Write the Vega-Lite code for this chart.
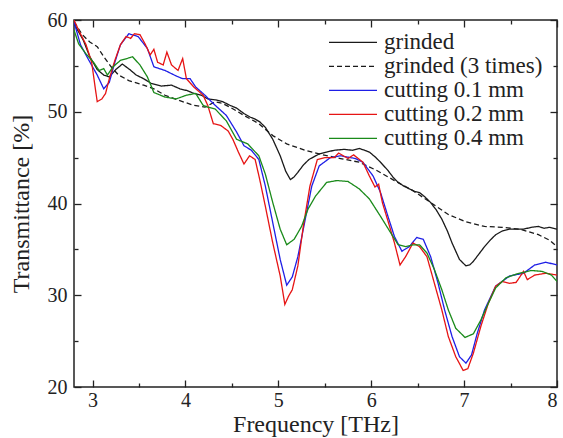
{
  "$schema": "https://vega.github.io/schema/vega-lite/v6.json",
  "width": 483,
  "height": 367,
  "autosize": {"type": "none"},
  "padding": {"left": 74, "top": 20, "right": 6, "bottom": 51},
  "background": "white",
  "config": {
    "font": "Liberation Serif, Times New Roman, DejaVu Serif, serif",
    "view": {"stroke": "#222", "strokeWidth": 1.5},
    "axis": {"domain": false, "grid": false, "labelFont": "Liberation Serif, Times New Roman, DejaVu Serif, serif", "titleFont": "Liberation Serif, Times New Roman, DejaVu Serif, serif", "tickColor": "#222", "labelColor": "#222", "titleColor": "#222", "titleFontWeight": "normal", "tickWidth": 1.3},
    "legend": {"labelFont": "Liberation Serif, Times New Roman, DejaVu Serif, serif"}
  },
  "data": {"values": [
    {"s":"grinded","f":2.8,"t":59.6},{"s":"grinded","f":2.9,"t":57.8},{"s":"grinded","f":2.97,"t":56.0},{"s":"grinded","f":3.05,"t":54.6},{"s":"grinded","f":3.12,"t":54.0},{"s":"grinded","f":3.18,"t":53.8},{"s":"grinded","f":3.25,"t":54.6},{"s":"grinded","f":3.32,"t":55.2},{"s":"grinded","f":3.4,"t":54.6},{"s":"grinded","f":3.47,"t":54.0},{"s":"grinded","f":3.55,"t":53.6},{"s":"grinded","f":3.63,"t":53.1},{"s":"grinded","f":3.74,"t":52.8},{"s":"grinded","f":3.85,"t":52.9},{"s":"grinded","f":3.94,"t":52.5},{"s":"grinded","f":4.02,"t":52.3},{"s":"grinded","f":4.09,"t":52.0},{"s":"grinded","f":4.17,"t":51.8},{"s":"grinded","f":4.24,"t":51.4},{"s":"grinded","f":4.32,"t":51.3},{"s":"grinded","f":4.4,"t":51.1},{"s":"grinded","f":4.48,"t":50.7},{"s":"grinded","f":4.55,"t":50.4},{"s":"grinded","f":4.63,"t":49.8},{"s":"grinded","f":4.7,"t":49.4},{"s":"grinded","f":4.75,"t":49.2},{"s":"grinded","f":4.8,"t":48.9},{"s":"grinded","f":4.86,"t":48.3},{"s":"grinded","f":4.94,"t":47.0},{"s":"grinded","f":5.02,"t":45.2},{"s":"grinded","f":5.08,"t":43.5},{"s":"grinded","f":5.13,"t":42.6},{"s":"grinded","f":5.17,"t":42.9},{"s":"grinded","f":5.21,"t":43.4},{"s":"grinded","f":5.27,"t":44.2},{"s":"grinded","f":5.33,"t":44.8},{"s":"grinded","f":5.44,"t":45.4},{"s":"grinded","f":5.52,"t":45.6},{"s":"grinded","f":5.6,"t":45.8},{"s":"grinded","f":5.71,"t":45.9},{"s":"grinded","f":5.8,"t":45.8},{"s":"grinded","f":5.87,"t":46.0},{"s":"grinded","f":5.93,"t":45.8},{"s":"grinded","f":5.98,"t":45.6},{"s":"grinded","f":6.04,"t":45.1},{"s":"grinded","f":6.1,"t":44.5},{"s":"grinded","f":6.18,"t":43.6},{"s":"grinded","f":6.24,"t":42.8},{"s":"grinded","f":6.29,"t":42.3},{"s":"grinded","f":6.35,"t":41.9},{"s":"grinded","f":6.41,"t":41.6},{"s":"grinded","f":6.47,"t":41.3},{"s":"grinded","f":6.52,"t":41.2},{"s":"grinded","f":6.58,"t":40.7},{"s":"grinded","f":6.64,"t":40.1},{"s":"grinded","f":6.7,"t":39.3},{"s":"grinded","f":6.76,"t":38.3},{"s":"grinded","f":6.82,"t":37.0},{"s":"grinded","f":6.87,"t":35.7},{"s":"grinded","f":6.91,"t":34.8},{"s":"grinded","f":6.95,"t":33.9},{"s":"grinded","f":7.02,"t":33.2},{"s":"grinded","f":7.06,"t":33.3},{"s":"grinded","f":7.1,"t":33.7},{"s":"grinded","f":7.16,"t":34.5},{"s":"grinded","f":7.22,"t":35.3},{"s":"grinded","f":7.28,"t":36.0},{"s":"grinded","f":7.34,"t":36.6},{"s":"grinded","f":7.41,"t":37.0},{"s":"grinded","f":7.49,"t":37.2},{"s":"grinded","f":7.56,"t":37.2},{"s":"grinded","f":7.64,"t":37.2},{"s":"grinded","f":7.72,"t":37.4},{"s":"grinded","f":7.8,"t":37.5},{"s":"grinded","f":7.86,"t":37.3},{"s":"grinded","f":7.92,"t":37.4},{"s":"grinded","f":8.0,"t":37.2},

    {"s":"grinded (3 times)","f":2.8,"t":59.8},{"s":"grinded (3 times)","f":2.89,"t":58.4},{"s":"grinded (3 times)","f":2.97,"t":57.6},{"s":"grinded (3 times)","f":3.05,"t":57.1},{"s":"grinded (3 times)","f":3.12,"t":56.0},{"s":"grinded (3 times)","f":3.2,"t":54.9},{"s":"grinded (3 times)","f":3.28,"t":54.0},{"s":"grinded (3 times)","f":3.39,"t":53.4},{"s":"grinded (3 times)","f":3.55,"t":52.9},{"s":"grinded (3 times)","f":3.66,"t":52.5},{"s":"grinded (3 times)","f":3.78,"t":51.8},{"s":"grinded (3 times)","f":3.94,"t":51.2},{"s":"grinded (3 times)","f":4.09,"t":50.7},{"s":"grinded (3 times)","f":4.21,"t":50.5},{"s":"grinded (3 times)","f":4.32,"t":51.1},{"s":"grinded (3 times)","f":4.4,"t":50.9},{"s":"grinded (3 times)","f":4.48,"t":50.5},{"s":"grinded (3 times)","f":4.63,"t":49.6},{"s":"grinded (3 times)","f":4.79,"t":48.7},{"s":"grinded (3 times)","f":4.94,"t":47.4},{"s":"grinded (3 times)","f":5.09,"t":46.5},{"s":"grinded (3 times)","f":5.29,"t":45.8},{"s":"grinded (3 times)","f":5.48,"t":45.3},{"s":"grinded (3 times)","f":5.67,"t":44.9},{"s":"grinded (3 times)","f":5.87,"t":44.5},{"s":"grinded (3 times)","f":6.06,"t":43.6},{"s":"grinded (3 times)","f":6.25,"t":42.5},{"s":"grinded (3 times)","f":6.45,"t":41.4},{"s":"grinded (3 times)","f":6.64,"t":40.1},{"s":"grinded (3 times)","f":6.83,"t":38.8},{"s":"grinded (3 times)","f":7.02,"t":38.0},{"s":"grinded (3 times)","f":7.22,"t":37.5},{"s":"grinded (3 times)","f":7.41,"t":37.4},{"s":"grinded (3 times)","f":7.6,"t":37.2},{"s":"grinded (3 times)","f":7.8,"t":36.6},{"s":"grinded (3 times)","f":7.92,"t":36.0},{"s":"grinded (3 times)","f":8.0,"t":35.3},

    {"s":"cutting 0.1 mm","f":2.8,"t":59.8},{"s":"cutting 0.1 mm","f":2.87,"t":57.3},{"s":"cutting 0.1 mm","f":2.95,"t":55.8},{"s":"cutting 0.1 mm","f":3.05,"t":54.0},{"s":"cutting 0.1 mm","f":3.12,"t":52.5},{"s":"cutting 0.1 mm","f":3.18,"t":53.2},{"s":"cutting 0.1 mm","f":3.24,"t":55.4},{"s":"cutting 0.1 mm","f":3.3,"t":57.3},{"s":"cutting 0.1 mm","f":3.39,"t":58.5},{"s":"cutting 0.1 mm","f":3.49,"t":58.2},{"s":"cutting 0.1 mm","f":3.59,"t":56.9},{"s":"cutting 0.1 mm","f":3.66,"t":54.9},{"s":"cutting 0.1 mm","f":3.78,"t":54.5},{"s":"cutting 0.1 mm","f":3.9,"t":53.9},{"s":"cutting 0.1 mm","f":3.97,"t":53.6},{"s":"cutting 0.1 mm","f":4.05,"t":53.6},{"s":"cutting 0.1 mm","f":4.11,"t":52.7},{"s":"cutting 0.1 mm","f":4.21,"t":51.8},{"s":"cutting 0.1 mm","f":4.32,"t":50.7},{"s":"cutting 0.1 mm","f":4.44,"t":49.6},{"s":"cutting 0.1 mm","f":4.55,"t":47.8},{"s":"cutting 0.1 mm","f":4.63,"t":46.3},{"s":"cutting 0.1 mm","f":4.71,"t":45.8},{"s":"cutting 0.1 mm","f":4.79,"t":44.8},{"s":"cutting 0.1 mm","f":4.86,"t":41.9},{"s":"cutting 0.1 mm","f":4.94,"t":37.9},{"s":"cutting 0.1 mm","f":5.02,"t":33.9},{"s":"cutting 0.1 mm","f":5.09,"t":31.1},{"s":"cutting 0.1 mm","f":5.15,"t":32.0},{"s":"cutting 0.1 mm","f":5.21,"t":34.2},{"s":"cutting 0.1 mm","f":5.29,"t":38.3},{"s":"cutting 0.1 mm","f":5.36,"t":41.9},{"s":"cutting 0.1 mm","f":5.44,"t":44.1},{"s":"cutting 0.1 mm","f":5.56,"t":45.0},{"s":"cutting 0.1 mm","f":5.67,"t":45.2},{"s":"cutting 0.1 mm","f":5.83,"t":44.9},{"s":"cutting 0.1 mm","f":5.91,"t":44.5},{"s":"cutting 0.1 mm","f":6.02,"t":43.0},{"s":"cutting 0.1 mm","f":6.1,"t":41.2},{"s":"cutting 0.1 mm","f":6.18,"t":38.6},{"s":"cutting 0.1 mm","f":6.25,"t":36.4},{"s":"cutting 0.1 mm","f":6.33,"t":34.8},{"s":"cutting 0.1 mm","f":6.41,"t":35.3},{"s":"cutting 0.1 mm","f":6.49,"t":36.3},{"s":"cutting 0.1 mm","f":6.56,"t":36.1},{"s":"cutting 0.1 mm","f":6.64,"t":34.2},{"s":"cutting 0.1 mm","f":6.72,"t":31.3},{"s":"cutting 0.1 mm","f":6.79,"t":28.4},{"s":"cutting 0.1 mm","f":6.87,"t":25.5},{"s":"cutting 0.1 mm","f":6.95,"t":23.3},{"s":"cutting 0.1 mm","f":7.02,"t":22.6},{"s":"cutting 0.1 mm","f":7.08,"t":23.5},{"s":"cutting 0.1 mm","f":7.14,"t":25.8},{"s":"cutting 0.1 mm","f":7.22,"t":28.4},{"s":"cutting 0.1 mm","f":7.34,"t":31.0},{"s":"cutting 0.1 mm","f":7.49,"t":32.1},{"s":"cutting 0.1 mm","f":7.64,"t":32.4},{"s":"cutting 0.1 mm","f":7.76,"t":33.3},{"s":"cutting 0.1 mm","f":7.88,"t":33.6},{"s":"cutting 0.1 mm","f":8.0,"t":33.3},

    {"s":"cutting 0.2 mm","f":2.8,"t":60.0},{"s":"cutting 0.2 mm","f":2.85,"t":58.9},{"s":"cutting 0.2 mm","f":2.93,"t":57.3},{"s":"cutting 0.2 mm","f":2.99,"t":55.4},{"s":"cutting 0.2 mm","f":3.03,"t":52.5},{"s":"cutting 0.2 mm","f":3.05,"t":51.1},{"s":"cutting 0.2 mm","f":3.1,"t":51.4},{"s":"cutting 0.2 mm","f":3.14,"t":52.0},{"s":"cutting 0.2 mm","f":3.18,"t":53.6},{"s":"cutting 0.2 mm","f":3.24,"t":55.6},{"s":"cutting 0.2 mm","f":3.3,"t":57.3},{"s":"cutting 0.2 mm","f":3.36,"t":58.2},{"s":"cutting 0.2 mm","f":3.41,"t":58.0},{"s":"cutting 0.2 mm","f":3.45,"t":58.5},{"s":"cutting 0.2 mm","f":3.51,"t":58.4},{"s":"cutting 0.2 mm","f":3.57,"t":57.3},{"s":"cutting 0.2 mm","f":3.62,"t":56.2},{"s":"cutting 0.2 mm","f":3.66,"t":56.8},{"s":"cutting 0.2 mm","f":3.7,"t":55.4},{"s":"cutting 0.2 mm","f":3.76,"t":55.1},{"s":"cutting 0.2 mm","f":3.8,"t":56.5},{"s":"cutting 0.2 mm","f":3.85,"t":55.1},{"s":"cutting 0.2 mm","f":3.92,"t":54.5},{"s":"cutting 0.2 mm","f":3.97,"t":55.8},{"s":"cutting 0.2 mm","f":4.01,"t":53.6},{"s":"cutting 0.2 mm","f":4.09,"t":52.7},{"s":"cutting 0.2 mm","f":4.19,"t":51.8},{"s":"cutting 0.2 mm","f":4.24,"t":50.7},{"s":"cutting 0.2 mm","f":4.3,"t":48.7},{"s":"cutting 0.2 mm","f":4.38,"t":48.5},{"s":"cutting 0.2 mm","f":4.46,"t":47.9},{"s":"cutting 0.2 mm","f":4.51,"t":47.0},{"s":"cutting 0.2 mm","f":4.57,"t":45.6},{"s":"cutting 0.2 mm","f":4.63,"t":44.3},{"s":"cutting 0.2 mm","f":4.69,"t":45.2},{"s":"cutting 0.2 mm","f":4.75,"t":44.8},{"s":"cutting 0.2 mm","f":4.8,"t":42.6},{"s":"cutting 0.2 mm","f":4.86,"t":39.7},{"s":"cutting 0.2 mm","f":4.94,"t":35.7},{"s":"cutting 0.2 mm","f":5.02,"t":32.1},{"s":"cutting 0.2 mm","f":5.07,"t":29.0},{"s":"cutting 0.2 mm","f":5.11,"t":29.9},{"s":"cutting 0.2 mm","f":5.15,"t":30.6},{"s":"cutting 0.2 mm","f":5.21,"t":33.2},{"s":"cutting 0.2 mm","f":5.27,"t":37.6},{"s":"cutting 0.2 mm","f":5.34,"t":41.9},{"s":"cutting 0.2 mm","f":5.42,"t":44.8},{"s":"cutting 0.2 mm","f":5.5,"t":45.0},{"s":"cutting 0.2 mm","f":5.6,"t":45.0},{"s":"cutting 0.2 mm","f":5.65,"t":45.5},{"s":"cutting 0.2 mm","f":5.75,"t":44.9},{"s":"cutting 0.2 mm","f":5.81,"t":45.3},{"s":"cutting 0.2 mm","f":5.91,"t":44.5},{"s":"cutting 0.2 mm","f":5.98,"t":43.0},{"s":"cutting 0.2 mm","f":6.04,"t":41.8},{"s":"cutting 0.2 mm","f":6.08,"t":42.1},{"s":"cutting 0.2 mm","f":6.12,"t":40.1},{"s":"cutting 0.2 mm","f":6.18,"t":38.1},{"s":"cutting 0.2 mm","f":6.25,"t":35.7},{"s":"cutting 0.2 mm","f":6.31,"t":33.3},{"s":"cutting 0.2 mm","f":6.37,"t":34.2},{"s":"cutting 0.2 mm","f":6.45,"t":35.7},{"s":"cutting 0.2 mm","f":6.52,"t":35.3},{"s":"cutting 0.2 mm","f":6.6,"t":34.2},{"s":"cutting 0.2 mm","f":6.68,"t":31.3},{"s":"cutting 0.2 mm","f":6.76,"t":28.4},{"s":"cutting 0.2 mm","f":6.83,"t":25.5},{"s":"cutting 0.2 mm","f":6.91,"t":23.3},{"s":"cutting 0.2 mm","f":6.99,"t":21.8},{"s":"cutting 0.2 mm","f":7.04,"t":22.0},{"s":"cutting 0.2 mm","f":7.1,"t":23.7},{"s":"cutting 0.2 mm","f":7.18,"t":26.6},{"s":"cutting 0.2 mm","f":7.26,"t":29.1},{"s":"cutting 0.2 mm","f":7.34,"t":31.0},{"s":"cutting 0.2 mm","f":7.41,"t":31.5},{"s":"cutting 0.2 mm","f":7.49,"t":31.3},{"s":"cutting 0.2 mm","f":7.56,"t":31.4},{"s":"cutting 0.2 mm","f":7.64,"t":32.6},{"s":"cutting 0.2 mm","f":7.68,"t":31.7},{"s":"cutting 0.2 mm","f":7.76,"t":32.2},{"s":"cutting 0.2 mm","f":7.88,"t":32.4},{"s":"cutting 0.2 mm","f":8.0,"t":32.2},

    {"s":"cutting 0.4 mm","f":2.8,"t":58.9},{"s":"cutting 0.4 mm","f":2.85,"t":57.4},{"s":"cutting 0.4 mm","f":2.93,"t":56.3},{"s":"cutting 0.4 mm","f":3.01,"t":55.4},{"s":"cutting 0.4 mm","f":3.07,"t":54.5},{"s":"cutting 0.4 mm","f":3.12,"t":54.7},{"s":"cutting 0.4 mm","f":3.16,"t":54.0},{"s":"cutting 0.4 mm","f":3.22,"t":54.9},{"s":"cutting 0.4 mm","f":3.3,"t":55.6},{"s":"cutting 0.4 mm","f":3.37,"t":55.8},{"s":"cutting 0.4 mm","f":3.43,"t":56.0},{"s":"cutting 0.4 mm","f":3.51,"t":55.1},{"s":"cutting 0.4 mm","f":3.59,"t":53.8},{"s":"cutting 0.4 mm","f":3.66,"t":52.1},{"s":"cutting 0.4 mm","f":3.78,"t":51.6},{"s":"cutting 0.4 mm","f":3.9,"t":51.4},{"s":"cutting 0.4 mm","f":4.01,"t":51.8},{"s":"cutting 0.4 mm","f":4.11,"t":52.0},{"s":"cutting 0.4 mm","f":4.19,"t":50.7},{"s":"cutting 0.4 mm","f":4.24,"t":50.5},{"s":"cutting 0.4 mm","f":4.32,"t":50.3},{"s":"cutting 0.4 mm","f":4.44,"t":49.0},{"s":"cutting 0.4 mm","f":4.55,"t":47.0},{"s":"cutting 0.4 mm","f":4.67,"t":46.5},{"s":"cutting 0.4 mm","f":4.79,"t":45.2},{"s":"cutting 0.4 mm","f":4.86,"t":43.2},{"s":"cutting 0.4 mm","f":4.94,"t":40.1},{"s":"cutting 0.4 mm","f":5.02,"t":37.2},{"s":"cutting 0.4 mm","f":5.09,"t":35.5},{"s":"cutting 0.4 mm","f":5.17,"t":36.1},{"s":"cutting 0.4 mm","f":5.25,"t":37.5},{"s":"cutting 0.4 mm","f":5.32,"t":39.4},{"s":"cutting 0.4 mm","f":5.4,"t":40.8},{"s":"cutting 0.4 mm","f":5.52,"t":42.3},{"s":"cutting 0.4 mm","f":5.63,"t":42.5},{"s":"cutting 0.4 mm","f":5.75,"t":42.4},{"s":"cutting 0.4 mm","f":5.87,"t":41.6},{"s":"cutting 0.4 mm","f":5.98,"t":40.5},{"s":"cutting 0.4 mm","f":6.1,"t":38.6},{"s":"cutting 0.4 mm","f":6.21,"t":36.8},{"s":"cutting 0.4 mm","f":6.29,"t":35.5},{"s":"cutting 0.4 mm","f":6.37,"t":35.3},{"s":"cutting 0.4 mm","f":6.45,"t":35.5},{"s":"cutting 0.4 mm","f":6.52,"t":35.5},{"s":"cutting 0.4 mm","f":6.6,"t":34.6},{"s":"cutting 0.4 mm","f":6.68,"t":32.8},{"s":"cutting 0.4 mm","f":6.76,"t":30.6},{"s":"cutting 0.4 mm","f":6.83,"t":28.4},{"s":"cutting 0.4 mm","f":6.91,"t":26.4},{"s":"cutting 0.4 mm","f":7.01,"t":25.4},{"s":"cutting 0.4 mm","f":7.1,"t":25.8},{"s":"cutting 0.4 mm","f":7.18,"t":27.3},{"s":"cutting 0.4 mm","f":7.26,"t":29.1},{"s":"cutting 0.4 mm","f":7.34,"t":30.8},{"s":"cutting 0.4 mm","f":7.45,"t":31.9},{"s":"cutting 0.4 mm","f":7.56,"t":32.3},{"s":"cutting 0.4 mm","f":7.72,"t":32.7},{"s":"cutting 0.4 mm","f":7.84,"t":32.6},{"s":"cutting 0.4 mm","f":7.94,"t":32.2},{"s":"cutting 0.4 mm","f":8.0,"t":31.5}
  ]},
  "layer": [
    {
      "mark": {"type": "line", "strokeWidth": 1.3, "clip": true},
      "encoding": {
        "x": {"field": "f", "type": "quantitative", "scale": {"domain": [2.8, 8], "nice": false, "zero": false},
              "axis": {"values": [3, 4, 5, 6, 7, 8], "tickSize": -7, "labelPadding": 10, "labelFontSize": 20, "title": "Frequency [THz]", "titleFontSize": 24, "titlePadding": 2}},
        "y": {"field": "t", "type": "quantitative", "scale": {"domain": [20, 60], "nice": false, "zero": false},
              "axis": {"values": [20, 30, 40, 50, 60], "tickSize": -7, "labelPadding": 14, "labelFontSize": 20, "title": "Transmittance [%]", "titleFontSize": 24, "titlePadding": 14}},
        "color": {"field": "s", "type": "nominal",
                  "scale": {"domain": ["grinded", "grinded (3 times)", "cutting 0.1 mm", "cutting 0.2 mm", "cutting 0.4 mm"], "range": ["#1a1a1a", "#1a1a1a", "#1e1ee6", "#e61414", "#1a8a1a"]},
                  "legend": {"title": null, "orient": "none", "legendX": 254, "legendY": 11, "symbolType": "stroke", "symbolSize": 2304, "symbolStrokeWidth": 1.3, "clipHeight": 22.7, "rowPadding": 0, "padding": 0, "labelOffset": 6, "labelFont": "Liberation Serif, Times New Roman, DejaVu Serif, serif", "labelFontSize": 23, "labelColor": "#222", "labelLimit": 400}},
        "strokeDash": {"field": "s", "type": "nominal",
                  "scale": {"domain": ["grinded", "grinded (3 times)", "cutting 0.1 mm", "cutting 0.2 mm", "cutting 0.4 mm"], "range": [[1, 0], [5, 3], [1, 0], [1, 0], [1, 0]]},
                  "legend": {"title": null, "orient": "none", "legendX": 254, "legendY": 11, "symbolType": "stroke", "symbolSize": 2304, "symbolStrokeWidth": 1.3, "clipHeight": 22.7, "rowPadding": 0, "padding": 0, "labelOffset": 6, "labelFont": "Liberation Serif, Times New Roman, DejaVu Serif, serif", "labelFontSize": 23, "labelColor": "#222", "labelLimit": 400}}
      }
    },
    {
      "mark": {"type": "line", "opacity": 0},
      "encoding": {
        "x": {"field": "f", "type": "quantitative", "scale": {"domain": [2.8, 8], "nice": false, "zero": false},
              "axis": {"orient": "top", "values": [3, 4, 5, 6, 7, 8], "tickSize": -7, "labels": false, "title": null}},
        "y": {"field": "t", "type": "quantitative", "scale": {"domain": [20, 60], "nice": false, "zero": false},
              "axis": {"orient": "right", "values": [20, 30, 40, 50, 60], "tickSize": -7, "labels": false, "title": null}}
      }
    },
    {
      "mark": {"type": "line", "opacity": 0},
      "encoding": {
        "x": {"field": "f", "type": "quantitative", "scale": {"domain": [2.8, 8], "nice": false, "zero": false},
              "axis": {"orient": "bottom", "values": [3.5, 4.5, 5.5, 6.5, 7.5], "tickSize": -4, "labels": false, "title": null}},
        "y": {"field": "t", "type": "quantitative", "scale": {"domain": [20, 60], "nice": false, "zero": false},
              "axis": {"orient": "left", "values": [25, 35, 45, 55], "tickSize": -4, "labels": false, "title": null}}
      }
    },
    {
      "mark": {"type": "line", "opacity": 0},
      "encoding": {
        "x": {"field": "f", "type": "quantitative", "scale": {"domain": [2.8, 8], "nice": false, "zero": false},
              "axis": {"orient": "top", "values": [3.5, 4.5, 5.5, 6.5, 7.5], "tickSize": -4, "labels": false, "title": null}},
        "y": {"field": "t", "type": "quantitative", "scale": {"domain": [20, 60], "nice": false, "zero": false},
              "axis": {"orient": "right", "values": [25, 35, 45, 55], "tickSize": -4, "labels": false, "title": null}}
      }
    }
  ],
  "resolve": {"axis": {"x": "independent", "y": "independent"}}
}
